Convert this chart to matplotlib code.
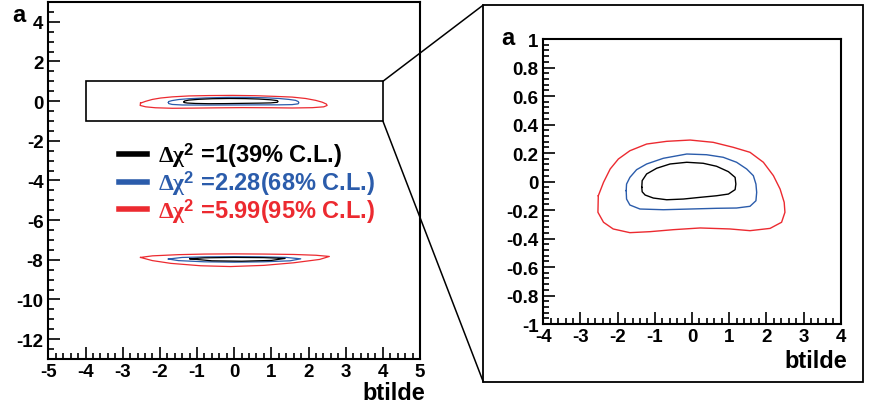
import numpy as np
import matplotlib
matplotlib.use('Agg')
import matplotlib.pyplot as plt
from matplotlib.lines import Line2D
from matplotlib.patches import Rectangle, ConnectionPatch
from matplotlib.ticker import MultipleLocator, FuncFormatter

plt.rcParams['font.family'] = ['Liberation Sans', 'DejaVu Sans']
plt.rcParams['font.weight'] = 'bold'
plt.rcParams['axes.unicode_minus'] = False
plt.rcParams['mathtext.fontset'] = 'custom'
plt.rcParams['mathtext.rm'] = 'Liberation Serif'
plt.rcParams['mathtext.it'] = 'Liberation Serif:italic'
plt.rcParams['mathtext.bf'] = 'Liberation Sans:bold'

# contour lines around the minimum at a ~ 0
red_x = [-2.52, -2.38, -2.20, -1.98, -1.67, -1.22, -0.68, -0.05, 0.57, 1.11, 1.56, 1.92,
         2.19, 2.37, 2.48, 2.50, 2.41, 2.10, 1.56, 1.02, 0.22, -0.50, -1.13, -1.67,
         -2.12, -2.38, -2.53, -2.52]
red_y = [-0.100, -0.006, 0.088, 0.158, 0.216, 0.263, 0.282, 0.291, 0.275, 0.240, 0.205, 0.135,
         0.041, -0.053, -0.146, -0.216, -0.286, -0.329, -0.345, -0.333, -0.326, -0.338, -0.352,
         -0.359, -0.333, -0.286, -0.216, -0.100]
blue_x = [-1.77, -1.76, -1.67, -1.49, -1.22, -0.77, -0.14, 0.39, 0.84, 1.20, 1.47, 1.65,
          1.72, 1.74, 1.72, 1.56, 1.20, 0.66, -0.05, -0.77, -1.40, -1.67, -1.76, -1.77]
blue_y = [-0.064, -0.018, 0.029, 0.083, 0.123, 0.163, 0.193, 0.188, 0.170, 0.135, 0.088, 0.041,
          -0.018, -0.076, -0.135, -0.174, -0.186, -0.188, -0.193, -0.198, -0.193, -0.165,
          -0.123, -0.064]
black_x = [-1.35, -1.34, -1.22, -0.95, -0.59, -0.14, 0.30, 0.66, 0.98, 1.16, 1.18, 1.16,
           0.98, 0.66, 0.22, -0.23, -0.68, -1.04, -1.26, -1.34, -1.35]
black_y = [-0.041, 0.006, 0.053, 0.093, 0.123, 0.135, 0.128, 0.107, 0.069, 0.029, -0.018,
           -0.057, -0.088, -0.100, -0.111, -0.123, -0.128, -0.116, -0.095, -0.072, -0.041]

# contour lines around the second minimum at a ~ -8 (left panel only)
red_low_x = [-2.52, -2.2, -1.5, -0.8, 0.0, 0.8, 1.6, 2.2, 2.56, 2.3, 1.6, 0.8, -0.1, -0.9,
             -1.7, -2.2, -2.52]
red_low_y = [-7.88, -7.8, -7.74, -7.71, -7.7, -7.71, -7.73, -7.77, -7.83, -7.98, -8.15,
             -8.28, -8.34, -8.3, -8.18, -8.04, -7.88]
blue_low_x = [-1.77, -1.4, -0.7, 0.0, 0.7, 1.4, 1.79, 1.5, 0.8, 0.0, -0.8, -1.5, -1.77]
blue_low_y = [-7.96, -7.88, -7.85, -7.84, -7.85, -7.88, -7.95, -8.05, -8.1, -8.12, -8.1,
              -8.04, -7.96]
black_low_x = [-1.19, -0.8, 0.0, 0.8, 1.37, 1.0, 0.2, -0.6, -1.19]
black_low_y = [-7.95, -7.9, -7.88, -7.89, -7.93, -8.03, -8.07, -8.05, -7.95]

labels = [r'$\mathrm{\Delta\chi}^{\mathbf{2}}$ =1(39% C.L.)',
          r'$\mathrm{\Delta\chi}^{\mathbf{2}}$ =2.28(68% C.L.)',
          r'$\mathrm{\Delta\chi}^{\mathbf{2}}$ =5.99(95% C.L.)']
c_black = 'black'
c_blue = '#2b5cab'
c_red = '#ec2a30'


def fmt(v, pos):
    return '%g' % (round(v, 2) + 0.0)


def style_axes(ax, xmaj, xmin, ymaj, ymin, ylen=8.4):
    ax.xaxis.set_major_locator(MultipleLocator(xmaj))
    ax.xaxis.set_minor_locator(MultipleLocator(xmin))
    ax.yaxis.set_major_locator(MultipleLocator(ymaj))
    ax.yaxis.set_minor_locator(MultipleLocator(ymin))
    ax.xaxis.set_major_formatter(FuncFormatter(fmt))
    ax.yaxis.set_major_formatter(FuncFormatter(fmt))
    ax.tick_params(which='both', direction='in', top=False, right=False,
                   width=1.2, labelsize=13.5)
    ax.tick_params(which='major', length=ylen, pad=3.5)
    ax.tick_params(which='minor', length=4)
    ax.tick_params(axis='x', which='major', pad=3)
    for lab in ax.get_xticklabels() + ax.get_yticklabels():
        lab.set_fontweight('bold')
    for s in ax.spines.values():
        s.set_linewidth(1.5)


fig = plt.figure(figsize=(8.74, 4.10), dpi=100)

# left: full range
ax1 = fig.add_axes([0.0553, 0.122, 0.4253, 0.8707])
ax1.plot(red_x, red_y, color=c_red, lw=0.9)
ax1.plot(blue_x, blue_y, color=c_blue, lw=0.9)
ax1.plot(black_x, black_y, color=c_black, lw=0.9)
ax1.plot(red_low_x, red_low_y, color=c_red, lw=0.9)
ax1.plot(blue_low_x, blue_low_y, color=c_blue, lw=0.9)
ax1.plot(black_low_x, black_low_y, color=c_black, lw=0.9)
ax1.set_xlim(-5, 5)
ax1.set_ylim(-13, 5)
style_axes(ax1, 1, 0.2, 2, 0.5)
ax1.add_patch(Rectangle((-4, -1), 8, 2, fill=False, ec='black', lw=1.2))

handles = [Line2D([], [], color=c, lw=4) for c in (c_black, c_blue, c_red)]
ax1.legend(handles, labels, loc='upper left', bbox_to_anchor=(0.19, 0.612),
           frameon=False, prop={'weight': 'bold', 'size': 17}, handlelength=1.2,
           handletextpad=0.45, labelspacing=-0.05, borderpad=0, borderaxespad=0,
           labelcolor='linecolor')

# right: zoom on a ~ 0
ax2 = fig.add_axes([0.6216, 0.2073, 0.3403, 0.6951])
ax2.plot(red_x, red_y, color=c_red, lw=1.0)
ax2.plot(blue_x, blue_y, color=c_blue, lw=1.0)
ax2.plot(black_x, black_y, color=c_black, lw=1.0)
ax2.set_xlim(-4, 4)
ax2.set_ylim(-1, 1)
style_axes(ax2, 1, 0.2, 0.2, 0.04)

# outer frame of the zoom panel and connecting lines
box = (0.553, 0.0659, 0.4341, 0.9195)
fig.add_artist(Rectangle(box[:2], box[2], box[3], transform=fig.transFigure,
                         fill=False, ec='black', lw=1.3))
for ya, yb in [(1, box[1] + box[3]), (-1, box[1])]:
    fig.add_artist(ConnectionPatch(xyA=(4, ya), coordsA=ax1.transData,
                                   xyB=(box[0], yb), coordsB=fig.transFigure,
                                   color='black', lw=1.1))

# axis titles
fig.text(12 / 874, 0.947, 'a', fontsize=17, fontweight='bold', va='baseline')
fig.text(0.4863, 0.025, 'btilde', fontsize=17, fontweight='bold', ha='right', va='baseline')
fig.text(0.574, 0.890, 'a', fontsize=17, fontweight='bold', va='baseline')
fig.text(0.9688, 0.1017, 'btilde', fontsize=17, fontweight='bold', ha='right', va='baseline')

fig.savefig('out.png', dpi=100)
